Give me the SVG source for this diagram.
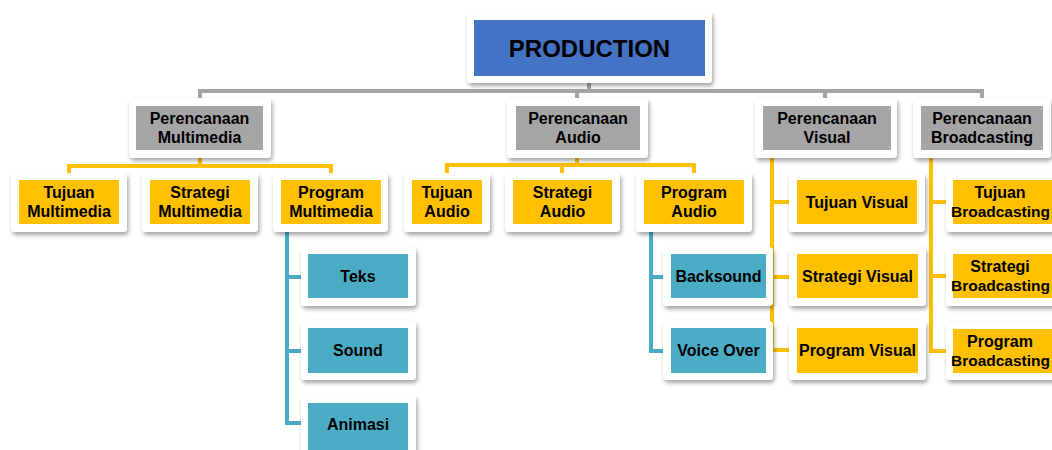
<svg xmlns="http://www.w3.org/2000/svg" width="1052" height="450" viewBox="0 0 1052 450">
<defs>
<filter id="sh" x="-20%" y="-20%" width="140%" height="150%">
<feDropShadow dx="1.5" dy="3" stdDeviation="2" flood-color="#000" flood-opacity="0.35"/>
</filter>
</defs>
<style>
.card{fill:#fff;filter:url(#sh)}
.top{fill:#4472C4}
.gray{fill:#A5A5A5}
.yel{fill:#FFC000}
.blu{fill:#4BACC6}
text{font-family:"Liberation Sans",Arial,sans-serif;font-weight:bold;font-size:16px;fill:#000;text-anchor:middle}
.big{font-size:24px}
.bc{font-size:15.5px}
.cg{fill:none;stroke:#A5A5A5;stroke-width:4}
.cy{fill:none;stroke:#FFC000;stroke-width:4}
.cb{fill:none;stroke:#4BACC6;stroke-width:4}
</style>
<rect width="1052" height="450" fill="#fff"/>
<g id="connectors">
<path class="cg" d="M589 83V91M200 98V91H982V98M577 91V98M825 91V98"/>
<path class="cy" d="M200 158V166M69 173V166H331V173"/>
<path class="cy" d="M577 158V165M447 173V165H694V173M562 165V173"/>
<path class="cy" d="M772 158V350H789M772 202H789M772 277H789"/>
<path class="cy" d="M931 158V351H946M931 202H946M931 276H946"/>
<path class="cb" d="M287 232V423H301M287 277H301M287 351H301"/>
<path class="cb" d="M651 232V351H663M651 277H663"/>
</g>
<g id="production"><rect class="card" x="467" y="12" width="245" height="71" rx="4"/><rect class="top" x="474" y="20" width="231" height="56"/><text class="big" x="589.5" y="57">PRODUCTION</text></g>
<g id="p-multimedia"><rect class="card" x="129" y="98" width="142" height="60" rx="4"/><rect class="gray" x="136" y="106" width="127" height="44"/><text x="199.5" y="124">Perencanaan</text><text x="199.5" y="143">Multimedia</text></g>
<g id="p-audio"><rect class="card" x="507" y="98" width="141" height="60" rx="4"/><rect class="gray" x="516" y="106" width="124" height="44"/><text x="578" y="124">Perencanaan</text><text x="578" y="143">Audio</text></g>
<g id="p-visual"><rect class="card" x="755" y="98" width="142" height="60" rx="4"/><rect class="gray" x="763" y="106" width="128" height="44"/><text x="827" y="124">Perencanaan</text><text x="827" y="143">Visual</text></g>
<g id="p-broadcasting"><rect class="card" x="913" y="98" width="138" height="60" rx="4"/><rect class="gray" x="921" y="106" width="122" height="44"/><text x="982" y="124">Perencanaan</text><text x="982" y="143">Broadcasting</text></g>
<g id="tujuan-multimedia"><rect class="card" x="11" y="173" width="116" height="59" rx="4"/><rect class="yel" x="19" y="180" width="100" height="44"/><text x="69" y="198">Tujuan</text><text x="69" y="217">Multimedia</text></g>
<g id="strategi-multimedia"><rect class="card" x="142" y="173" width="116" height="59" rx="4"/><rect class="yel" x="150" y="180" width="100" height="44"/><text x="200" y="198">Strategi</text><text x="200" y="217">Multimedia</text></g>
<g id="program-multimedia"><rect class="card" x="273" y="173" width="115" height="59" rx="4"/><rect class="yel" x="281" y="180" width="100" height="44"/><text x="331" y="198">Program</text><text x="331" y="217">Multimedia</text></g>
<g id="tujuan-audio"><rect class="card" x="404" y="173" width="86" height="59" rx="4"/><rect class="yel" x="412" y="180" width="70" height="44"/><text x="447" y="198">Tujuan</text><text x="447" y="217">Audio</text></g>
<g id="strategi-audio"><rect class="card" x="505" y="173" width="115" height="59" rx="4"/><rect class="yel" x="513" y="180" width="99" height="44"/><text x="562.5" y="198">Strategi</text><text x="562.5" y="217">Audio</text></g>
<g id="program-audio"><rect class="card" x="636" y="173" width="116" height="59" rx="4"/><rect class="yel" x="644" y="180" width="100" height="44"/><text x="694" y="198">Program</text><text x="694" y="217">Audio</text></g>
<g id="tujuan-visual"><rect class="card" x="789" y="173" width="136" height="59" rx="4"/><rect class="yel" x="797" y="180" width="120" height="44"/><text x="857" y="208">Tujuan Visual</text></g>
<g id="strategi-visual"><rect class="card" x="789" y="247" width="137" height="59" rx="4"/><rect class="yel" x="797" y="254" width="121" height="44"/><text x="857.5" y="282">Strategi Visual</text></g>
<g id="program-visual"><rect class="card" x="789" y="321" width="137" height="59" rx="4"/><rect class="yel" x="797" y="328" width="121" height="45"/><text x="857.5" y="356">Program Visual</text></g>
<g id="tujuan-broadcasting"><rect class="card" x="946" y="173" width="120" height="59" rx="4"/><rect class="yel" x="953" y="180" width="105" height="44"/><text x="1000" y="198">Tujuan</text><text class="bc" x="1000.5" y="217">Broadcasting</text></g>
<g id="strategi-broadcasting"><rect class="card" x="946" y="247" width="120" height="59" rx="4"/><rect class="yel" x="953" y="254" width="105" height="44"/><text x="1000" y="272">Strategi</text><text class="bc" x="1000.5" y="291">Broadcasting</text></g>
<g id="program-broadcasting"><rect class="card" x="946" y="322" width="120" height="58" rx="4"/><rect class="yel" x="953" y="329" width="105" height="44"/><text x="1000" y="347">Program</text><text class="bc" x="1000.5" y="366">Broadcasting</text></g>
<g id="teks"><rect class="card" x="301" y="247" width="115" height="59" rx="4"/><rect class="blu" x="308" y="254" width="100" height="44"/><text x="358" y="282">Teks</text></g>
<g id="sound"><rect class="card" x="301" y="321" width="115" height="59" rx="4"/><rect class="blu" x="308" y="328" width="100" height="45"/><text x="358" y="356">Sound</text></g>
<g id="animasi"><rect class="card" x="301" y="395" width="115" height="70" rx="4"/><rect class="blu" x="308" y="403" width="100" height="55"/><text x="358" y="430">Animasi</text></g>
<g id="backsound"><rect class="card" x="663" y="247" width="110" height="59" rx="4"/><rect class="blu" x="671" y="254" width="95" height="44"/><text x="718.5" y="282">Backsound</text></g>
<g id="voice-over"><rect class="card" x="663" y="321" width="110" height="59" rx="4"/><rect class="blu" x="671" y="328" width="95" height="45"/><text x="718.5" y="356">Voice Over</text></g>
</svg>
